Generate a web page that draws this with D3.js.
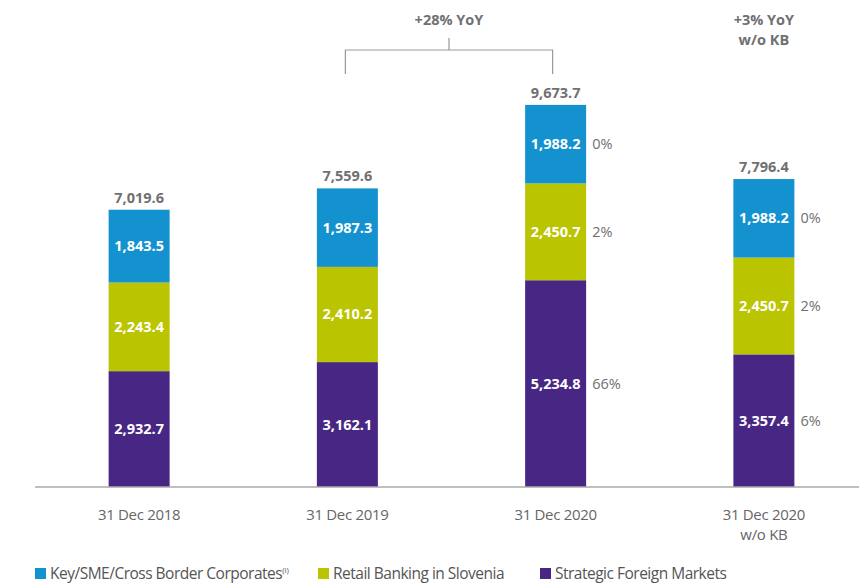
<!DOCTYPE html>
<html>
<head>
<meta charset="utf-8">
<script src="https://cdn.jsdelivr.net/npm/d3@7"></script>
<style>
  body { margin: 0; background: #fff; }
  svg { font-family: "Open Sans", sans-serif; }
</style>
</head>
<body>
<div id="chart"></div>
<script>
const categories = ["31 Dec 2018", "31 Dec 2019", "31 Dec 2020", "31 Dec 2020\nw/o KB"];
const seriesNames = ["Strategic Foreign Markets", "Retail Banking in Slovenia", "Key/SME/Cross Border Corporates"];
const foreignMarkets = [2932.7, 3162.1, 5234.8, 3357.4];
const retailSlovenia = [2243.4, 2410.2, 2450.7, 2450.7];
const corporates = [1843.5, 1987.3, 1988.2, 1988.2];
const totals = [7019.6, 7559.6, 9673.7, 7796.4];
const shareLabels = [
    [null, null, "66%", "6%"],
    [null, null, "2%", "2%"],
    [null, null, "0%", "0%"]
];
const colors = ["#472783", "#bac400", "#1492d0"];

const width = 859;
const height = 585;
const baseline = 487;
const barWidth = 61;
const grey = "#707070";

const svg = d3.select("#chart").append("svg").attr("width", width).attr("height", height);

const x = d3.scaleBand().domain(categories).range([35, 868]);
const y = d3.scaleLinear().domain([0, 10000]).range([baseline, 92]);
const cx = (d) => x(d) + x.bandwidth() / 2;

// stack the three series
const rows = categories.map((c, i) => ({
    cat: c,
    s0: foreignMarkets[i],
    s1: retailSlovenia[i],
    s2: corporates[i]
}));
const stacked = d3.stack().keys(["s0", "s1", "s2"])(rows);

stacked.forEach((layer, li) => {
    const g = svg.append("g");
    g.selectAll("rect")
        .data(layer)
        .enter().append("rect")
        .attr("x", (d) => cx(d.data.cat) - barWidth / 2)
        .attr("width", barWidth)
        .attr("y", (d) => y(d[1]))
        .attr("height", (d) => y(d[0]) - y(d[1]))
        .attr("fill", colors[li]);

    g.selectAll("text.val")
        .data(layer)
        .enter().append("text")
        .attr("class", "val")
        .attr("x", (d) => cx(d.data.cat))
        .attr("y", (d) => (y(d[0]) + y(d[1])) / 2 + 5)
        .attr("text-anchor", "middle")
        .attr("fill", "#fff")
        .style("font-size", "14.5px")
        .style("font-weight", "bold")
        .text((d) => d3.format(",.1f")(d[1] - d[0]));

    g.selectAll("text.share")
        .data(layer)
        .enter().append("text")
        .attr("class", "share")
        .attr("x", (d) => cx(d.data.cat) + barWidth / 2 + 6)
        .attr("y", (d) => (y(d[0]) + y(d[1])) / 2 + 5)
        .attr("fill", grey)
        .style("font-size", "14.5px")
        .text((d, i) => shareLabels[li][i] || "");
});

// totals
svg.append("g").selectAll("text")
    .data(categories)
    .enter().append("text")
    .attr("x", (d) => cx(d))
    .attr("y", (d, i) => y(totals[i]) - 7)
    .attr("text-anchor", "middle")
    .attr("fill", grey)
    .style("font-size", "14.5px")
    .style("font-weight", "bold")
    .text((d, i) => d3.format(",.1f")(totals[i]));

// axis
const axis = svg.append("g")
    .attr("transform", `translate(0,${baseline})`)
    .call(d3.axisBottom(x).tickSize(0).tickFormat(""));
axis.select(".domain").attr("d", "M35,0H859").attr("stroke", "#aaa").attr("stroke-width", 1.5);

// category labels, one text per line
const labelLines = [];
categories.forEach((c) => c.split("\n").forEach((line, i) => labelLines.push({cat: c, line, i})));
svg.append("g").selectAll("text")
    .data(labelLines)
    .enter().append("text")
    .attr("x", (d) => cx(d.cat))
    .attr("y", (d) => baseline + 33 + d.i * 20)
    .attr("text-anchor", "middle")
    .attr("fill", "#666")
    .style("font-size", "15px")
    .style("letter-spacing", "-0.3px")
    .text((d) => d.line);

// YoY bracket between 2019 and 2020
const bx1 = cx(categories[1]) - 2;
const bx2 = cx(categories[2]) - 3;
const bmid = (bx1 + bx2) / 2;
svg.append("path")
    .attr("d", `M${bx1},74V50H${bx2}V74M${bmid},50V38`)
    .attr("fill", "none")
    .attr("stroke", "#999")
    .attr("stroke-width", 1.2);
svg.append("text")
    .attr("x", bmid)
    .attr("y", 25)
    .attr("text-anchor", "middle")
    .attr("fill", grey)
    .style("font-size", "14.5px")
    .style("font-weight", "bold")
    .text("+28% YoY");

["+3% YoY", "w/o KB"].forEach((line, i) => {
    svg.append("text")
        .attr("x", cx(categories[3]))
        .attr("y", 25 + i * 20)
        .attr("text-anchor", "middle")
        .attr("fill", grey)
        .style("font-size", "14.5px")
        .style("font-weight", "bold")
        .text(line);
});

// legend
const legendItems = [
    {name: seriesNames[2], color: colors[2], x: 35, sup: "(i)"},
    {name: seriesNames[1], color: colors[1], x: 318},
    {name: seriesNames[0], color: colors[0], x: 540}
];
const lg = svg.append("g").selectAll("g")
    .data(legendItems)
    .enter().append("g")
    .attr("transform", (d) => `translate(${d.x},568)`);
lg.append("rect").attr("width", 11).attr("height", 11).attr("fill", (d) => d.color);
const lt = lg.append("text")
    .attr("x", 15)
    .attr("y", 11)
    .attr("fill", "#555")
    .style("font-size", "15.5px")
    .style("letter-spacing", "-0.5px");
lt.append("tspan").text((d) => d.name);
lt.filter((d) => d.sup).append("tspan")
    .attr("dy", -6)
    .style("font-size", "8px")
    .style("letter-spacing", "0px")
    .text((d) => d.sup);
</script>
</body>
</html>
